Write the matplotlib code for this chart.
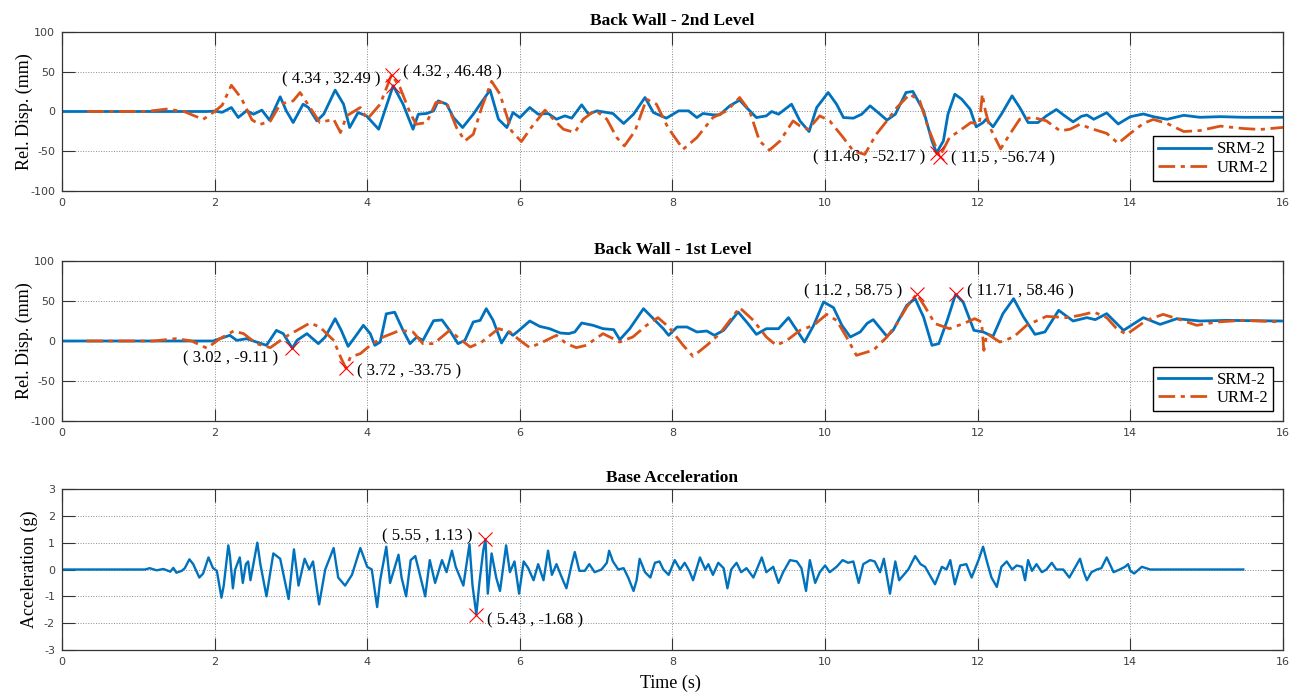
import matplotlib.pyplot as plt

plt.rcParams['axes.unicode_minus'] = False
plt.rcParams['lines.solid_joinstyle'] = 'round'
plt.rcParams['lines.dash_joinstyle'] = 'round'

# ---- data ----
# Back Wall - 2nd Level
t_srm2_top = [0, 1.9, 2.0, 2.1, 2.22, 2.31, 2.42, 2.51, 2.62, 2.72, 2.86, 2.94, 3.03, 3.16, 3.23, 3.34,
              3.43, 3.58, 3.69, 3.77, 3.88, 3.99, 4.15, 4.34, 4.47, 4.60, 4.67, 4.78, 4.87, 4.93, 5.04,
              5.13, 5.25, 5.39, 5.48, 5.61, 5.72, 5.83, 5.91, 6.0, 6.13, 6.24, 6.37, 6.48, 6.59, 6.68,
              6.81, 6.90, 7.01, 7.22, 7.36, 7.49, 7.64, 7.75, 7.92, 8.08, 8.21, 8.32, 8.40, 8.53, 8.62,
              8.75, 8.88, 8.97, 9.10, 9.23, 9.30, 9.39, 9.56, 9.67, 9.79, 9.89, 10.04, 10.15, 10.24,
              10.37, 10.48, 10.59, 10.72, 10.81, 10.92, 11.06, 11.15, 11.29, 11.40, 11.46, 11.55, 11.61,
              11.70, 11.79, 11.90, 11.98, 12.07, 12.11, 12.20, 12.31, 12.45, 12.55, 12.66, 12.79, 12.90,
              13.03, 13.14, 13.25, 13.36, 13.43, 13.52, 13.69, 13.84, 14.0, 14.17, 14.30, 14.48, 14.70,
              14.91, 15.18, 15.48, 16.0]
srm2_top = [0, 0, 0.5, -1, 5, -7.5, 1, -3.4, 1.7, -10.9, 18.5, 0.8, -13.9, 9.2, 5, -11.8,
            -3.4, 26.9, 9.2, -20.2, -1.3, -5.5, -22.3, 32.49, 9.2, -22.3, -3.4, -2.5, 0.8, 13.4, 9.2,
            -7.6, -20.2, -3.4, 9.2, 27, -9.7, -20.2, -1.3, -7.6, 5, -3.4, -2.5, -9.7, -5.5, -8.4,
            8.4, -3.4, 0.8, -2.5, -15.1, -3.4, 17.6, -1.3, -8.4, 0.8, 0.8, -7.6, -2.5, -4.2, -4.2,
            7.1, 14.3, 5, -7.6, -5.5, 0, -3.4, 9.2, -11.8, -25.2, 5, 23.9, 9.2, -7.6,
            -8.4, -3.4, 7.1, -3.4, -10.9, -3.4, 23.9, 25.2, 0.8, -37, -52.17, -37, -3.4,
            21.8, 15.5, 2.9, -19.3, -13.9, -9.7, -19.3, -3.4, 19.7, 5, -13.9, -13.9, -5.5,
            2.5, -5.5, -13, -6, -4.4, -9.8, -1.5, -15.7, -6.5, -3.1, -6.5, -9.8, -4.8,
            -7.3, -6.5, -7.3, -7.3]

t_urm2_top = [0.33, 1.1, 1.37, 1.6, 1.85, 2.0, 2.1, 2.22, 2.35, 2.49, 2.59, 2.73, 2.86, 3.03, 3.12,
              3.25, 3.38, 3.56, 3.65, 3.73, 3.91, 4.0, 4.17, 4.32, 4.43, 4.56, 4.64, 4.78, 4.90, 5.04,
              5.17, 5.28, 5.39, 5.50, 5.63, 5.74, 5.89, 6.02, 6.15, 6.33, 6.46, 6.57, 6.72, 6.83, 6.99,
              7.14, 7.27, 7.37, 7.51, 7.66, 7.79, 7.94, 8.14, 8.32, 8.53, 8.71, 8.88, 9.01, 9.14, 9.27,
              9.41, 9.58, 9.67, 9.78, 9.93, 10.06, 10.22, 10.37, 10.52, 10.67, 10.81, 10.94, 11.11,
              11.24, 11.35, 11.50, 11.63, 11.76, 11.91, 12.02, 12.06, 12.10, 12.16, 12.30, 12.42, 12.55,
              12.73, 12.90, 13.08, 13.21, 13.34, 13.47, 13.69, 13.84, 14.0, 14.17, 14.30, 14.48, 14.70,
              14.91, 15.18, 15.48, 15.70, 16.0]
urm2_top = [0, 0, 3, 0, -10, 0, 8, 33, 16.8, -10.5, -16.4, -12.2, 9.2, 13.4, 23.9,
            5, -13.9, -9.7, -26.5, -5.5, 5, -9.7, 9.2, 46.48, 30.2, -1.3, -16, -13.9, 11.3, 11.3,
            -20.2, -37, -28.6, 5, 38, 21.8, -24.4, -37.8, -20.2, 1.7, -11.8, -22.3, -26.5, -9.7, 1.7,
            -9.7, -32.8, -43.3, -24.4, 15.5, 9.2, -20.2, -47.5, -32.8, -7.6, 0.8, 17.6, 0.8, -37, -48.7,
            -37, -11.8, -18.1, -22.3, -5.5, -11.8, -30.7, -49.6, -54, -28.6, -11.8, 5, 21.8,
            13.4, -20.2, -56.74, -32.8, -24.4, -13.9, -16, 21.8, 0.8, -20.2, -47, -28.6, -9.7,
            -7.6, -11.8, -24.4, -22.3, -16, -21, -27.5, -40, -27.5, -15, -10, -15, -25.2,
            -24, -18.4, -21.4, -22.6, -20]

# Back Wall - 1st Level
t_srm2_mid = [0, 1.98, 2.07, 2.20, 2.29, 2.42, 2.55, 2.68, 2.81, 2.90, 3.02, 3.08, 3.21, 3.36, 3.45,
              3.58, 3.66, 3.75, 3.84, 3.95, 4.04, 4.10, 4.17, 4.25, 4.36, 4.47, 4.56, 4.65, 4.73, 4.87,
              4.98, 5.08, 5.19, 5.28, 5.39, 5.48, 5.56, 5.65, 5.76, 5.85, 5.91, 6.0, 6.13, 6.26, 6.39,
              6.53, 6.64, 6.72, 6.81, 6.96, 7.09, 7.23, 7.31, 7.44, 7.62, 7.75, 7.88, 7.95, 8.06, 8.19,
              8.32, 8.45, 8.55, 8.67, 8.86, 8.99, 9.10, 9.23, 9.39, 9.52, 9.63, 9.73, 9.85, 9.98, 10.11,
              10.22, 10.33, 10.46, 10.55, 10.63, 10.81, 10.89, 11.07, 11.18, 11.29, 11.40, 11.49, 11.60,
              11.71, 11.81, 11.95, 12.07, 12.20, 12.33, 12.47, 12.60, 12.75, 12.88, 13.06, 13.25, 13.43,
              13.54, 13.69, 13.91, 14.17, 14.39, 14.61, 14.91, 15.26, 15.98]
srm2_mid = [0, 0, 2.9, 7.1, 0.8, 2.9, -1.3, -5.4, 13.3, 9.2, -9.11, 0.8, 9.2, -3.3, 5,
            27.9, 13.3, -6.7, 5, 19.6, 9.2, -5.4, -1.3, 34, 36, 13.3, -3.3, 5, 0.8, 25.4,
            26.3, 13.3, -3.3, 0.8, 23.8, 25.8, 40.4, 25.8, -2.5, 11.3, 7.1, 14.2, 25, 18.3, 15.4,
            10, 9.2, 11.3, 22.5, 19.6, 15.4, 14.2, 1.7, 15.4, 40.4, 27.9, 15.4, 7.1, 17.5, 17.5,
            11.3, 12.5, 7.1, 13.3, 36.3, 21.7, 8.3, 15.4, 15.4, 29.2, 13.3, -1.3, 19.6, 48.8, 41.7,
            19.6, 5, 11.3, 22, 26.7, 5.8, 13.3, 44.6, 52.9, 30, -5.4, -3.3, 25.8,
            58.46, 48.3, 13.3, 11.3, 5.8, 34.2, 52.9, 30, 8.3, 11.3, 38.3, 25, 29.2,
            26.7, 34.2, 13.3, 29.2, 20.8, 27.9, 25, 25.8, 25]

t_urm2_mid = [0.32, 1.2, 1.5, 1.7, 1.9, 2.07, 2.25, 2.38, 2.55, 2.73, 2.94, 3.25, 3.38, 3.56, 3.66,
              3.72, 3.78, 3.91, 4.04, 4.21, 4.43, 4.60, 4.73, 4.87, 4.95, 5.08, 5.21, 5.35, 5.50, 5.72,
              5.87, 6.0, 6.13, 6.30, 6.48, 6.61, 6.74, 6.87, 7.09, 7.31, 7.48, 7.66, 7.81, 7.95, 8.14,
              8.27, 8.45, 8.62, 8.88, 9.06, 9.23, 9.36, 9.50, 9.67, 9.85, 10.02, 10.15, 10.28, 10.41,
              10.55, 10.63, 10.81, 10.94, 11.07, 11.2, 11.31, 11.44, 11.63, 11.81, 11.96, 12.05, 12.08,
              12.12, 12.29, 12.47, 12.64, 12.90, 13.17, 13.34, 13.52, 13.69, 13.82, 13.95, 14.21, 14.43,
              14.65, 14.87, 15.13, 15.48, 15.98]
urm2_mid = [0, 0, 3, 0, -9, 2.9, 12.5, 9.2, -3.3, -8.3, 5.8, 22.5, 17.5, 0.8, -22,
            -33.75, -20, -15.8, -5.4, 5, 13.3, 11.3, -3.3, -3.3, 2.9, 13.3, 2.9, -7.5, -1.3, 15.4,
            11.3, 0.8, -8.3, -1.3, 7.1, -3.3, -8.3, -5.4, 9.2, -1.3, 5, 19.6, 29.2, 17.5, -5.4,
            -19.2, -5.4, 9.2, 41.7, 25.8, 5, -5.4, 0.8, 13.3, 19.6, 33.3, 25.8, 5, -17.9,
            -13.8, -11.7, 5, 21.7, 42.5, 58.75, 42.5, 21.7, 15.4, 21.7, 27.9, 23.8, -11.7,
            9.2, -1.3, 5, 19.6, 30.8, 29.2, 32.1, 36.3, 29.2, 15.4, 8.3, 25.8, 33.3,
            26.7, 19.6, 23.8, 25.8, 23.8]

# Base Acceleration
t_acc = [0, 1.09, 1.15, 1.24, 1.33, 1.42, 1.46, 1.50, 1.57, 1.61, 1.67, 1.72, 1.80, 1.85, 1.92, 1.98,
         2.03, 2.09, 2.12, 2.18, 2.20, 2.24, 2.27, 2.33, 2.37, 2.41, 2.44, 2.47, 2.56, 2.60, 2.68, 2.77,
         2.86, 2.97, 3.04, 3.10, 3.18, 3.24, 3.29, 3.37, 3.45, 3.56, 3.62, 3.71, 3.80, 3.91, 4.0, 4.06,
         4.13, 4.17, 4.25, 4.30, 4.41, 4.45, 4.51, 4.57, 4.63, 4.69, 4.76, 4.82, 4.89, 4.98, 5.04, 5.11,
         5.16, 5.26, 5.34, 5.38, 5.43, 5.47, 5.52, 5.55, 5.58, 5.63, 5.69, 5.74, 5.82, 5.87, 5.93, 5.99,
         6.05, 6.11, 6.18, 6.24, 6.31, 6.37, 6.42, 6.48, 6.55, 6.61, 6.68, 6.72, 6.78, 6.85, 6.91, 6.98,
         7.07, 7.14, 7.17, 7.22, 7.29, 7.36, 7.42, 7.49, 7.53, 7.57, 7.64, 7.71, 7.77, 7.83, 7.88, 7.95,
         8.03, 8.10, 8.16, 8.22, 8.27, 8.36, 8.43, 8.47, 8.53, 8.60, 8.67, 8.72, 8.77, 8.84, 8.90, 8.97,
         9.06, 9.17, 9.23, 9.32, 9.39, 9.45, 9.54, 9.63, 9.69, 9.75, 9.80, 9.87, 9.93, 10.0, 10.06,
         10.15, 10.23, 10.30, 10.37, 10.44, 10.50, 10.59, 10.65, 10.72, 10.77, 10.85, 10.92, 10.97,
         11.03, 11.09, 11.18, 11.25, 11.31, 11.44, 11.53, 11.59, 11.64, 11.70, 11.77, 11.85, 11.92,
         12.01, 12.07, 12.12, 12.18, 12.25, 12.31, 12.38, 12.45, 12.51, 12.58, 12.62, 12.66, 12.71,
         12.77, 12.84, 12.90, 12.97, 13.03, 13.12, 13.20, 13.27, 13.34, 13.39, 13.43, 13.49, 13.56,
         13.62, 13.69, 13.78, 13.86, 13.93, 13.97, 14.0, 14.05, 14.15, 14.26, 15.48]
acc = [0, 0, 0.05, -0.03, 0.02, -0.08, 0.06, -0.12, -0.05, 0.05, 0.38, 0.2, -0.3, -0.15, 0.45, 0.05,
       -0.05, -1.05, -0.6, 0.9, 0.55, -0.7, 0.0, 0.45, -0.5, 0.2, 0.3, -0.4, 1.0, 0.2, -1.0, 0.6,
       0.4, -1.1, 0.75, -0.6, 0.4, 0.0, 0.3, -1.3, 0.0, 0.8, -0.3, -0.6, -0.2, 0.8, 0.1, 0.0,
       -1.4, -0.4, 0.85, -0.5, 0.55, -0.3, -1.0, 0.35, 0.5, -0.2, -1.0, 0.35, -0.5, 0.35, -0.1, 0.7,
       0.1, -0.6, 0.95, -0.6, -1.68, -0.5, 0.7, 1.13, -0.9, 0.6, -0.3, -0.8, 0.9, -0.1, 0.3, -0.9,
       0.3, 0.05, -0.4, 0.2, -0.4, 0.7, -0.2, 0.2, -0.3, -0.7, 0.2, 0.65, -0.05, -0.05, 0.2, -0.1,
       0.0, 0.25, 0.7, 0.3, 0.0, 0.05, -0.3, -0.8, -0.4, 0.4, -0.1, -0.3, 0.25, 0.3, 0.0, -0.2,
       0.35, 0.0, 0.25, -0.05, -0.4, 0.45, 0.0, 0.2, -0.2, 0.25, 0.05, -0.7, 0.0, 0.25, -0.1, 0.05,
       -0.3, 0.45, -0.1, 0.1, -0.5, -0.1, 0.35, 0.3, 0.05, -0.8, 0.35, -0.5, -0.1, 0.15, -0.1,
       0.1, 0.35, 0.25, 0.3, -0.5, 0.2, 0.35, 0.3, -0.1, 0.4, -0.9, 0.3, -0.4,
       -0.2, 0.0, 0.5, 0.2, 0.1, -0.55, 0.1, 0.0, 0.35, -0.55, 0.15, 0.2, -0.3,
       0.35, 0.85, 0.3, -0.3, -0.65, 0.1, 0.3, 0.0, 0.15, 0.1, -0.4, 0.35, -0.05,
       0.2, -0.1, 0.0, 0.25, 0.0, 0.0, -0.3, 0.05, 0.4, -0.1, -0.4, -0.1, 0.0,
       0.05, 0.45, -0.1, 0.0, 0.1, 0.2, -0.05, -0.15, 0.1, 0.0, 0.0]

# data tips: (x, y, text x-offset px, text y-offset px, horizontal alignment)
tips_top = [(4.34, 32.49, -13, 6, 'right'), (4.32, 46.48, 11, 2, 'left'),
            (11.46, -52.17, -11, -4, 'right'), (11.5, -56.74, 11, -2, 'left')]
tips_mid = [(3.02, -9.11, -14, -10, 'right'), (3.72, -33.75, 11, -3, 'left'),
            (11.2, 58.75, -14, 3, 'right'), (11.71, 58.46, 11, 3, 'left')]
tips_acc = [(5.55, 1.13, -13, 3, 'right'), (5.43, -1.68, 11, -6, 'left')]

BLUE = '#0072BD'
ORANGE = '#D95319'
SERIF = 'Liberation Serif'

fig = plt.figure(figsize=(13.04, 6.96), dpi=100)
ax1 = fig.add_axes([0.0475, 0.7256, 0.9364, 0.2284])
ax2 = fig.add_axes([0.0475, 0.3951, 0.9364, 0.2299])
ax3 = fig.add_axes([0.0475, 0.0661, 0.9364, 0.2313])


def style(ax, title, ylabel, yticks):
    ax.set_xlim(0, 16)
    ax.set_ylim(yticks[0], yticks[-1])
    ax.set_xticks(range(0, 17, 2))
    ax.set_yticks(yticks)
    ax.grid(True, linestyle=':', color='#8a8a8a', linewidth=0.7)
    ax.tick_params(direction='in', length=9, width=0.8, top=True, right=True,
                   labelsize=8, color='#333333', labelcolor='#404040', pad=5)
    for s in ax.spines.values():
        s.set_color('#333333')
        s.set_linewidth(0.9)
    ax.set_title(title, family=SERIF, fontweight='bold', fontsize=12.5, pad=5)
    ax.set_ylabel(ylabel, family=SERIF, fontsize=13)
    ax.yaxis.set_label_coords(-0.024, 0.5)


def add_tips(ax, tips):
    for x, y, dx, dy, ha in tips:
        ax.plot(x, y, 'x', color='red', markersize=10, markeredgewidth=0.8, zorder=5)
        ax.annotate(f'( {x} , {y} )', xy=(x, y), xytext=(dx, dy), textcoords='offset pixels',
                    ha=ha, va='center', family=SERIF, fontsize=12, zorder=6)


def legend(ax):
    ax.legend(loc='lower right', prop={'family': SERIF, 'size': 12}, fancybox=False,
              edgecolor='black', framealpha=1, handlelength=3.2, borderpad=0.3,
              labelspacing=0.15, handletextpad=0.3, borderaxespad=0.6)


# top
ax1.plot(t_srm2_top, srm2_top, color=BLUE, linewidth=2, label='SRM-2')
ax1.plot(t_urm2_top, urm2_top, color=ORANGE, linewidth=2, dashes=(6, 2, 1.5, 2), label='URM-2')
style(ax1, 'Back Wall - 2nd Level', 'Rel. Disp. (mm)', [-100, -50, 0, 50, 100])
add_tips(ax1, tips_top)
legend(ax1)

# middle
ax2.plot(t_srm2_mid, srm2_mid, color=BLUE, linewidth=2, label='SRM-2')
ax2.plot(t_urm2_mid, urm2_mid, color=ORANGE, linewidth=2, dashes=(6, 2, 1.5, 2), label='URM-2')
style(ax2, 'Back Wall - 1st Level', 'Rel. Disp. (mm)', [-100, -50, 0, 50, 100])
add_tips(ax2, tips_mid)
legend(ax2)

# bottom
ax3.plot(t_acc, acc, color=BLUE, linewidth=1.7)
style(ax3, 'Base Acceleration', 'Acceleration (g)', [-3, -2, -1, 0, 1, 2, 3])
ax3.yaxis.set_label_coords(-0.0197, 0.5)
add_tips(ax3, tips_acc)
ax3.set_xlabel('Time (s)', family=SERIF, fontsize=13)
ax3.xaxis.set_label_coords(0.498, -0.155)

plt.savefig('out.png', dpi=100)
